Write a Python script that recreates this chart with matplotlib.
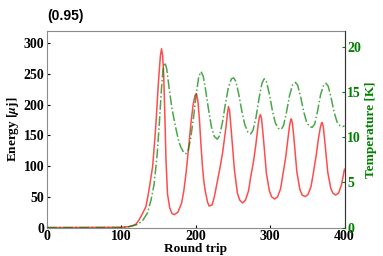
import numpy as np
import matplotlib.pyplot as plt

plt.rcParams['font.family'] = 'Liberation Serif'
plt.rcParams['font.weight'] = 'bold'
plt.rcParams['mathtext.fontset'] = 'stix'

# energy (red)
rt_e = [0, 100, 110, 115, 120, 124, 128, 133, 137, 142, 146, 150, 152.5, 154, 155.5, 157, 158.5, 160,
        162, 165, 168, 171, 176, 181, 184, 187, 190, 193.5, 196.5, 199, 201, 203, 205, 207, 209,
        211, 213, 216, 218, 222, 225, 229.5, 233, 236, 240.7, 242.5, 244, 245.5, 248, 252, 256,
        259, 263, 267, 271, 274, 278, 281, 284, 285.5, 287, 288.5, 291, 295, 299, 302, 306,
        310, 314, 317, 321, 324, 326, 327.5, 328.5, 330, 332, 336, 340, 343, 347,
        351, 355, 358, 362, 365, 367.5, 369, 370, 371.5, 373.5, 377.5, 381.5, 384.5, 388,
        392, 396, 400]
energy = [0, 0.5, 1.5, 3, 6, 13, 22, 34, 60, 99, 160, 240, 280, 291, 280, 245, 180, 110,
          55, 32, 23, 21, 25, 40, 60, 89, 125, 170, 200, 215, 218, 205, 175, 135, 100,
          74, 58, 41, 35, 37, 50, 78, 100, 121, 164, 185, 197, 190, 154, 94, 56,
          45, 40, 45, 60, 83, 110, 137, 168, 180, 184, 177, 145, 88, 60, 50, 46.5,
          50, 63, 85, 115, 145, 165, 174, 177, 170, 145, 90, 62, 53, 50.5,
          54, 67, 88, 118, 145, 163, 170, 171, 164, 140, 90, 64, 56, 53,
          56, 70, 95]

# temperature (green)
rt_t = [0, 100, 110, 120, 128, 135, 140, 144, 148, 151, 154, 156, 158.5, 161, 164, 168, 173, 177,
        180, 184, 187, 190, 193, 197, 201, 204, 207, 210, 213, 217, 221, 225, 229, 232, 236,
        240, 244, 248, 251, 254, 258, 262, 266, 270, 274, 277, 281, 285, 289, 292, 295, 299,
        303, 307, 311, 315, 318, 322, 326, 330, 334, 337, 341, 345, 349, 353, 356.5, 360,
        364, 368, 372, 375, 378, 382, 386, 390, 394, 398, 400]
temp = [0, 0, 0.1, 0.3, 0.7, 1.6, 3.1, 4.8, 8, 11.5, 15.5, 17.5, 18.3, 17.6, 15.6, 13.2, 11.1, 9.6,
        8.9, 8.3, 8.2, 8.6, 9.8, 12.2, 15.0, 16.7, 17.3, 16.8, 15.4, 13.2, 11.2, 10.1, 9.8, 10.2, 11.7,
        13.8, 15.6, 16.5, 16.6, 16.2, 14.7, 12.9, 11.4, 10.6, 10.4, 10.8, 12.2, 14.3, 16.0, 16.5, 16.2, 14.8,
        13.0, 11.6, 11.0, 10.9, 11.3, 12.8, 14.6, 15.8, 16.1, 15.8, 14.5, 12.9, 11.7, 11.2, 11.1, 11.5,
        13.0, 14.8, 15.8, 16.0, 15.7, 14.4, 12.8, 11.7, 11.3, 11.2, 11.3]

fig = plt.figure(figsize=(3.83, 2.56), dpi=100)
ax = fig.add_axes([0.1227, 0.111, 0.7768, 0.768])
ax.plot(rt_e, energy, color='red', alpha=0.7, lw=1.1)
ax.set_xlim(0, 400)
ax.set_ylim(0, 320)
ax.set_xticks([0, 100, 200, 300, 400])
ax.set_yticks([0, 50, 100, 150, 200, 250, 300])
ax.tick_params(direction='in', length=2, labelsize=10, pad=2)
plt.setp(ax.get_xticklabels() + ax.get_yticklabels(), fontweight='bold')
ax.set_xlabel('Round trip', fontsize=9.5, fontweight='bold', labelpad=0)
ax.set_ylabel(r'Energy [$\mu$j]', fontsize=9.5, fontweight='bold', labelpad=2)
for s in ax.spines.values():
    s.set_color('0.55')
ax.set_title('(0.95)', loc='left', fontsize=10, fontweight='bold',
             family='Liberation Sans', pad=8)

ax2 = ax.twinx()
ax2.plot(rt_t, temp, color='green', alpha=0.7, lw=1.1, ls='-.')
ax2.set_ylim(0, 21.8)
ax2.set_yticks([0, 5, 10, 15, 20])
ax2.tick_params(direction='in', length=2, labelsize=10, pad=2, colors='green')
plt.setp(ax2.get_yticklabels(), fontweight='bold')
for k in ['top', 'left', 'bottom']:
    ax2.spines[k].set_visible(False)
ax2.spines['right'].set_color('0.2')
ax2.set_ylabel('Temperature [K]', fontsize=9.5, fontweight='bold', color='green', labelpad=3)

fig.savefig('out.png', dpi=100)
